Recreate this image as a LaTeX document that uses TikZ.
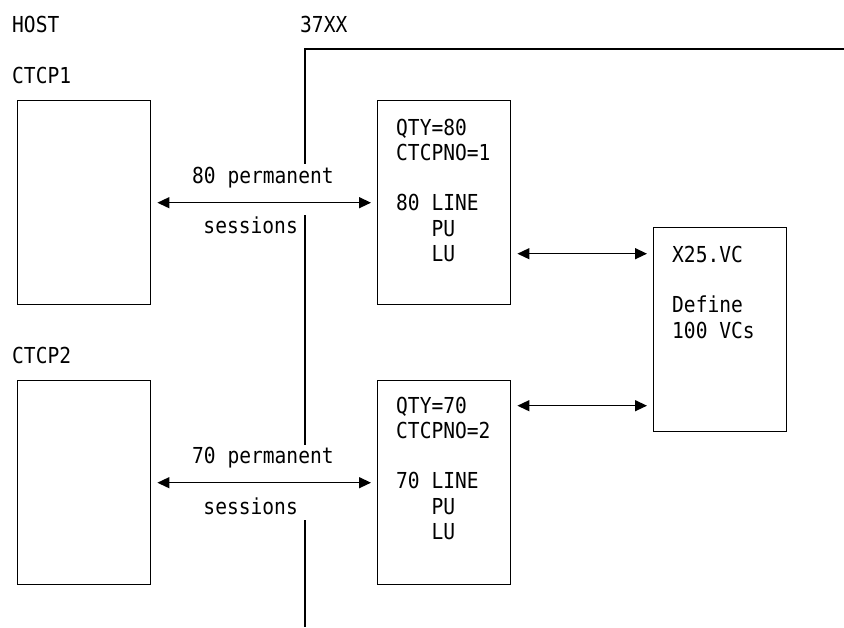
\documentclass[tikz,border=0pt]{standalone}
\usepackage{fontspec}
\setmainfont[FakeStretch=0.89]{DejaVu Sans Mono}
\usetikzlibrary{arrows.meta}
\tikzset{
  unit/.style={draw,line width=1.4pt,minimum width=133pt,minimum height=204pt,anchor=north west,inner sep=0pt},
  txt/.style={anchor=base west,inner sep=0pt,align=left},
  link/.style={line width=1.4pt,{Triangle[length=12pt,width=11pt]}-{Triangle[length=12pt,width=11pt]},shorten <=6pt,shorten >=6pt}
}
\begin{document}
\begin{tikzpicture}[x=1pt,y=-1pt,font=\fontsize{22}{25.3}\selectfont]
                \useasboundingbox (0,0) rectangle (844,627);
                %% headings
                \node[txt] (host) at (12,32) {HOST};
                \node[txt] (fep) at (300,32) {37XX};
                \node[txt] (lbl1) at (12,83) {CTCP1};
                \node[txt] (lbl2) at (12,363) {CTCP2};
                %% 37XX border
                \draw[line width=1.4pt] (844,49) -- (305,49) -- (305,164);
                \draw[line width=1.4pt] (305,215) -- (305,445);
                \draw[line width=1.4pt] (305,520) -- (305,627);
                %% boxes
                \node[unit] (ctcp1) at (17,100) {};
                \node[unit] (ctcp2) at (17,380) {};
                \node[unit] (def1) at (377,100) {};
                \node[unit] (def2) at (377,380) {};
                \node[unit] (vc) at (653,227) {};
                %% box texts (base = last line)
                \node[txt] (t1) at (396,261.5) {QTY=80\\CTCPNO=1\\[25.3pt]80 LINE\\\hphantom{000}PU\\\hphantom{000}LU};
                \node[txt] (t2) at (396,539.5) {QTY=70\\CTCPNO=2\\[25.3pt]70 LINE\\\hphantom{000}PU\\\hphantom{000}LU};
                \node[txt] (t3) at (672,338) {X25.VC\\[25.3pt]Define\\100 VCs};
                %% sessions
                \draw[link] (ctcp1) -- (def1);
                \draw[link] (ctcp2) -- (def2);
                \node[txt] (s1) at (192,183) {80 permanent};
                \node[txt,anchor=base east] (s2) at (298,233) {sessions};
                \node[txt] (s3) at (192,463) {70 permanent};
                \node[txt,anchor=base east] (s4) at (298,514) {sessions};
                %% virtual circuits
                \coordinate (p1) at ([yshift=-51pt]def1.east);
                \coordinate (p2) at ([yshift=77pt]def2.east);
                \draw[link] (p1) -- (p1 -| vc.west);
                \draw[link] (p2) -- (p2 -| vc.west);
            \end{tikzpicture}
\end{document}
